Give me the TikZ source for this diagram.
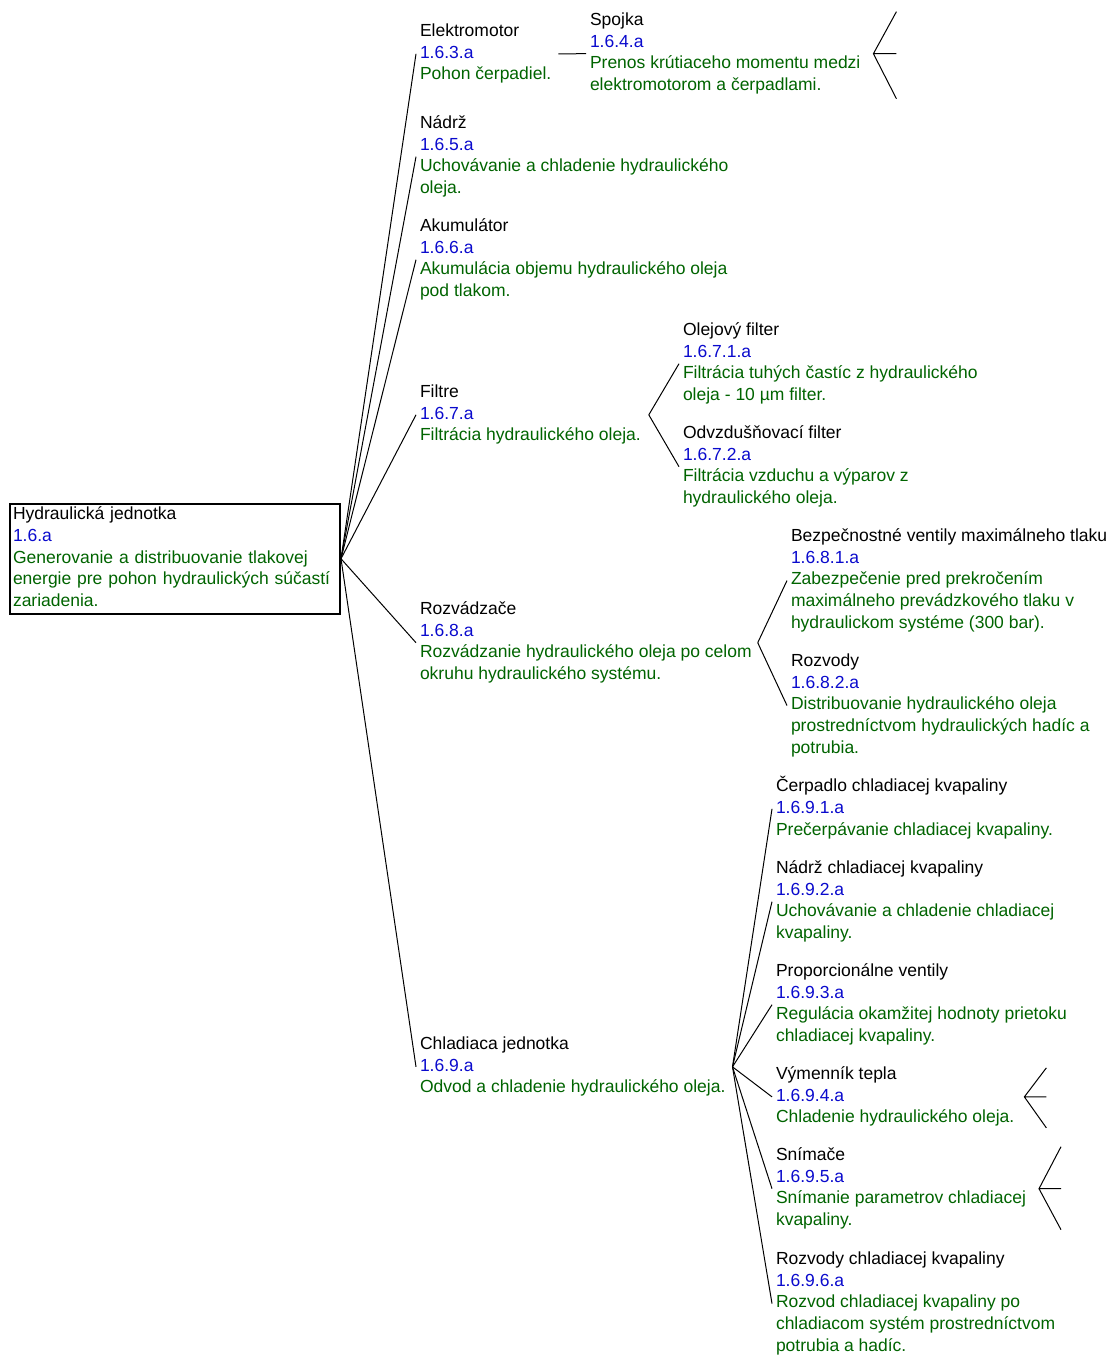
\documentclass[tikz,border=0pt]{standalone}
\usepackage{fontspec}
\setmainfont{Liberation Sans}
\definecolor{codeblue}{RGB}{10,10,205}
\definecolor{descgreen}{RGB}{0,100,0}
\newcommand\nm[1]{\strut #1}
\newcommand\cd[1]{\strut\textcolor{codeblue}{#1}}
\newcommand\ds[1]{\strut\textcolor{descgreen}{#1}}
\begin{document}
\begin{tikzpicture}[x=1pt,y=-1pt,
  item/.style={anchor=north west, align=left, inner sep=0pt, outer sep=0pt,
               font=\fontsize{17.5}{21.7}\selectfont},
  rootbox/.style={item, draw=black, line width=2pt, inner xsep=3pt, inner ysep=1pt, text width=324pt},
  link/.style={draw=black, line width=1pt}]
\fill[white] (0,0) rectangle (1114,1356);
\useasboundingbox (0,0) rectangle (1114,1356);

% root
\node[rootbox] (root) at (10,503.5) {\nm{Hydraulická jednotka}\\\cd{1.6.a}\\\ds{Generovanie a distribuovanie tlakovej}\\\ds{energie pre pohon hydraulických súčastí}\\\ds{zariadenia.}};

% level 1
\node[item] (elek) at (420,21.3) {\nm{Elektromotor}\\\cd{1.6.3.a}\\\ds{Pohon čerpadiel.}};
\node[item] (nadrz) at (420,113.3) {\nm{Nádrž}\\\cd{1.6.5.a}\\\ds{Uchovávanie a chladenie hydraulického}\\\ds{oleja.}};
\node[item] (akum) at (420,216.3) {\nm{Akumulátor}\\\cd{1.6.6.a}\\\ds{Akumulácia objemu hydraulického oleja}\\\ds{pod tlakom.}};
\node[item] (filtre) at (420,382.3) {\nm{Filtre}\\\cd{1.6.7.a}\\\ds{Filtrácia hydraulického oleja.}};
\node[item] (rozv) at (420,599.3) {\nm{Rozvádzače}\\\cd{1.6.8.a}\\\ds{Rozvádzanie hydraulického oleja po celom}\\\ds{okruhu hydraulického systému.}};
\node[item] (chlad) at (420,1034.3) {\nm{Chladiaca jednotka}\\\cd{1.6.9.a}\\\ds{Odvod a chladenie hydraulického oleja.}};

% level 2
\node[item] (spojka) at (590,10.3) {\nm{Spojka}\\\cd{1.6.4.a}\\\ds{Prenos krútiaceho momentu medzi}\\\ds{elektromotorom a čerpadlami.}};
\node[item] (olej) at (683,320.3) {\nm{Olejový filter}\\\cd{1.6.7.1.a}\\\ds{Filtrácia tuhých častíc z hydraulického}\\\ds{oleja - 10 µm filter.}};
\node[item] (odvz) at (683,423.3) {\nm{Odvzdušňovací filter}\\\cd{1.6.7.2.a}\\\ds{Filtrácia vzduchu a výparov z}\\\ds{hydraulického oleja.}};
\node[item] (bezp) at (791,526.3) {\nm{Bezpečnostné ventily maximálneho tlaku}\\\cd{1.6.8.1.a}\\\ds{Zabezpečenie pred prekročením}\\\ds{maximálneho prevádzkového tlaku v}\\\ds{hydraulickom systéme (300 bar).}};
\node[item] (rozvody) at (791,651.3) {\nm{Rozvody}\\\cd{1.6.8.2.a}\\\ds{Distribuovanie hydraulického oleja}\\\ds{prostredníctvom hydraulických hadíc a}\\\ds{potrubia.}};
\node[item] (cerp) at (776,776.3) {\nm{Čerpadlo chladiacej kvapaliny}\\\cd{1.6.9.1.a}\\\ds{Prečerpávanie chladiacej kvapaliny.}};
\node[item] (nadrzch) at (776,858.3) {\nm{Nádrž chladiacej kvapaliny}\\\cd{1.6.9.2.a}\\\ds{Uchovávanie a chladenie chladiacej}\\\ds{kvapaliny.}};
\node[item] (prop) at (776,961.3) {\nm{Proporcionálne ventily}\\\cd{1.6.9.3.a}\\\ds{Regulácia okamžitej hodnoty prietoku}\\\ds{chladiacej kvapaliny.}};
\node[item] (vym) at (776,1064.3) {\nm{Výmenník tepla}\\\cd{1.6.9.4.a}\\\ds{Chladenie hydraulického oleja.}};
\node[item] (snim) at (776,1145.3) {\nm{Snímače}\\\cd{1.6.9.5.a}\\\ds{Snímanie parametrov chladiacej}\\\ds{kvapaliny.}};
\node[item] (rozvch) at (776,1249.3) {\nm{Rozvody chladiacej kvapaliny}\\\cd{1.6.9.6.a}\\\ds{Rozvod chladiacej kvapaliny po}\\\ds{chladiacom systém prostredníctvom}\\\ds{potrubia a hadíc.}};

% root connectors
\foreach \c in {elek,nadrz,akum,filtre,rozv,chlad}
  \draw[link] ([xshift=1pt]root.east) -- ([xshift=-4pt]\c.west);

% sub connectors
\draw[link] ([xshift=7pt]elek.east) -- ([xshift=-4pt]spojka.west);
\foreach \c in {olej,odvz}
  \draw[link] ([xshift=8pt]filtre.east) -- ([xshift=-4pt]\c.west);
\foreach \c in {bezp,rozvody}
  \draw[link] ([xshift=6pt]rozv.east) -- ([xshift=-4pt]\c.west);
\foreach \c in {cerp,nadrzch,prop,vym,snim,rozvch}
  \draw[link] ([xshift=7pt]chlad.east) -- ([xshift=-4pt]\c.west);

% collapsed-branch stubs
\coordinate (sa) at ([xshift=13pt]spojka.east);
\coordinate (sa1) at ([shift={(23,-42)}]sa);
\coordinate (sa2) at ([shift={(23,0)}]sa);
\coordinate (sa3) at ([shift={(23,45)}]sa);
\draw[link] (sa1) -- (sa) -- (sa3) (sa) -- (sa2);

\coordinate (va) at ([xshift=10pt]vym.east);
\coordinate (va1) at ([shift={(22,-29)}]va);
\coordinate (va2) at ([shift={(22,0)}]va);
\coordinate (va3) at ([shift={(22,31)}]va);
\draw[link] (va1) -- (va) -- (va3) (va) -- (va2);

\coordinate (na) at ([xshift=13pt]snim.east);
\coordinate (na1) at ([shift={(22,-42)}]na);
\coordinate (na2) at ([shift={(22,0)}]na);
\coordinate (na3) at ([shift={(22,41)}]na);
\draw[link] (na1) -- (na) -- (na3) (na) -- (na2);
\end{tikzpicture}
\end{document}
